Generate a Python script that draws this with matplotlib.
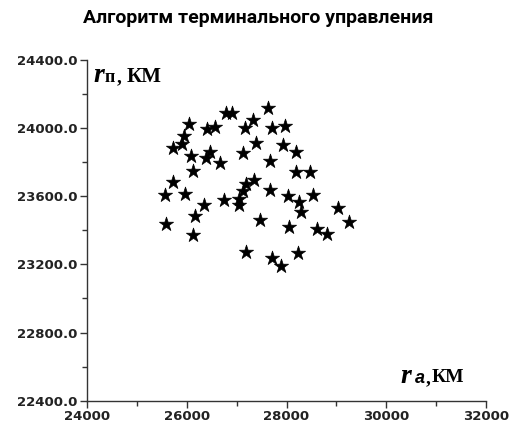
import matplotlib
matplotlib.use("Agg")
import matplotlib.pyplot as plt
from matplotlib.ticker import MultipleLocator, FormatStrFormatter

ra = [27620, 26790, 26910, 27330, 26050, 27160, 27715, 27960, 26400, 26560,
      25940, 25900, 25725, 27380, 27925, 28185, 27120, 26095, 26385, 26460,
      26665, 27675, 26125, 28185, 28480, 25715, 25560, 25960, 27340, 27195,
      27125, 26750, 27050, 27050, 26340, 27660, 28025, 28260, 28295, 28525,
      29025, 29260, 26165, 25585, 27460, 28045, 28610, 28810, 26125, 27180,
      27715, 27895, 28225]
rp = [24120, 24090, 24090, 24045, 24025, 24000, 24000, 24010, 23995, 24005,
      23955, 23905, 23885, 23910, 23900, 23860, 23855, 23835, 23825, 23860,
      23795, 23810, 23750, 23745, 23740, 23685, 23605, 23615, 23695, 23670,
      23630, 23580, 23585, 23550, 23550, 23635, 23600, 23565, 23510, 23605,
      23530, 23450, 23485, 23440, 23460, 23420, 23410, 23380, 23370, 23275,
      23240, 23190, 23265]

title = "Алгоритм терминального управления"

fig = plt.figure(figsize=(5.16, 4.33), dpi=100)
ax = fig.add_axes([87/516, 1-400.7/433, (486-87)/516, (400.7-60)/433])

ax.scatter(ra, rp, marker='*', s=115, c='black', edgecolors='black', linewidths=0.5, zorder=3)

ax.set_xlim(24000, 32000)
ax.set_ylim(22400, 24400)
ax.xaxis.set_major_locator(MultipleLocator(2000))
ax.xaxis.set_minor_locator(MultipleLocator(1000))
ax.yaxis.set_major_locator(MultipleLocator(400))
ax.yaxis.set_minor_locator(MultipleLocator(200))
ax.yaxis.set_major_formatter(FormatStrFormatter('%.1f'))
ax.xaxis.set_major_formatter(FormatStrFormatter('%d'))

for s in ['top', 'right']:
    ax.spines[s].set_visible(False)
for s in ['left', 'bottom']:
    ax.spines[s].set_linewidth(1.0)
    ax.spines[s].set_color('#333333')

ax.tick_params(which='major', direction='out', length=5, width=1, color='#333333',
               labelsize=9.5, pad=2)
ax.tick_params(which='minor', direction='out', length=3.5, width=1, color='#333333')
for lab in ax.get_xticklabels() + ax.get_yticklabels():
    lab.set_fontfamily('DejaVu Sans')
    lab.set_fontweight('bold')
    lab.set_color('#222222')

fig.text(0.5, 1-18/433, title, ha='center', va='center', fontsize=14,
         fontweight='bold', family='Roboto')

def px(x, y):
    return x/516, 1-y/433

# axis labels inside plot
fig.text(*px(93, 82), 'r', fontsize=20, fontweight='bold', fontstyle='italic',
         family='Liberation Serif', ha='left', va='baseline')
fig.text(*px(105, 82), 'п', fontsize=13, fontweight='bold',
         family='Liberation Serif', ha='left', va='baseline')
fig.text(*px(117, 82), ',', fontsize=14, fontweight='bold',
         family='Liberation Serif', ha='left', va='baseline')
fig.text(*px(127, 82), 'КМ', fontsize=15, fontweight='bold',
         family='Liberation Serif', ha='left', va='baseline')

fig.text(*px(400, 383), 'r', fontsize=20, fontweight='bold', fontstyle='italic',
         family='Liberation Serif', ha='left', va='baseline')
fig.text(*px(415, 383), 'a', fontsize=13, fontweight='bold', fontstyle='italic',
         family='Liberation Sans', ha='left', va='baseline')
fig.text(*px(426, 383), ',', fontsize=14, fontweight='bold',
         family='Liberation Serif', ha='left', va='baseline')
fig.text(*px(432, 382), 'КМ', fontsize=14, fontweight='bold',
         family='Liberation Serif', ha='left', va='baseline')

fig.savefig('out.png', dpi=100)
